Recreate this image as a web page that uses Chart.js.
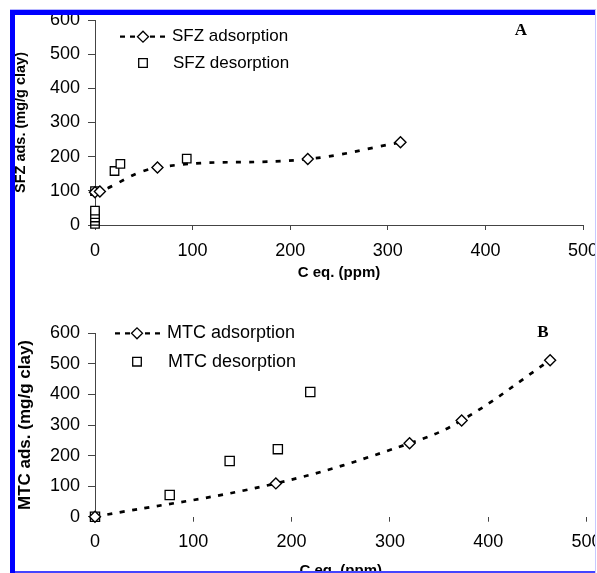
<!DOCTYPE html>
<html>
<head>
<meta charset="utf-8">
<script src="https://cdn.jsdelivr.net/npm/chart.js@4.4.0/dist/chart.umd.min.js"></script>
<style>
html, body { margin: 0; padding: 0; width: 597px; height: 573px; overflow: hidden; background: #fff; }
.box { position: absolute; left: 0; width: 597px; }
#topBox { top: 0; height: 290px; }
#botBox { top: 290px; height: 300px; }
.frame { position: absolute; background: #0000ff; }
</style>
</head>
<body>
<div class="box" id="topBox"><canvas id="chartA" width="597" height="290"></canvas></div>
<div class="box" id="botBox"><canvas id="chartB" width="597" height="300"></canvas></div>
<div class="frame" style="left:10px;top:9px;width:586px;height:1px;background:#b8b8ff"></div>
<div class="frame" style="left:10px;top:10px;width:586px;height:5px"></div>
<div class="frame" style="left:10px;top:10px;width:5px;height:563px"></div>
<div class="frame" style="left:15px;top:571px;width:581px;height:2px;background:#4444ff"></div>
<div style="position:absolute;left:595px;top:10px;width:2px;height:563px;background:#fff;border-left:1px solid #c8c8ff"></div>
<script>
// panel A - SFZ
const sfzAdsX = [0, 5, 64, 218, 313];
const sfzAdsY = [96, 98, 168, 193, 242];
const sfzDesX = [0, 0, 0, 0, 0, 0, 20, 26, 94];
const sfzDesY = [3, 12, 22, 32, 42, 99, 158, 179, 194];

// panel B - MTC
const mtcAdsX = [0, 184, 320, 373, 463];
const mtcAdsY = [0, 109, 240, 315, 512];
const mtcDesX = [0, 76, 137, 186, 219];
const mtcDesY = [0, 71, 182, 221, 408];

const xTicks = [0, 100, 200, 300, 400, 500];
const yTicks = [0, 100, 200, 300, 400, 500, 600];

const FONT = "'Liberation Sans', Arial, sans-serif";
const AXIS = '#444';

function pts(xs, ys) {
    return xs.map((x, i) => ({ x: x, y: ys[i] }));
}

// legend + panel letter drawn inside the plot
const cornerLegend = {
    id: 'cornerLegend',
    afterDraw(chart, args, o) {
        const ctx = chart.ctx;
        ctx.save();
        ctx.strokeStyle = '#000';
        ctx.lineWidth = 2.2;
        ctx.setLineDash([5, 5]);
        ctx.beginPath();
        ctx.moveTo(o.lineX0, o.row1);
        ctx.lineTo(o.lineX1, o.row1);
        ctx.stroke();
        ctx.setLineDash([]);

        ctx.fillStyle = '#fff';
        ctx.lineWidth = 1.3;
        const r = 5.5;
        ctx.beginPath();
        ctx.moveTo(o.symX - r, o.row1);
        ctx.lineTo(o.symX, o.row1 - r);
        ctx.lineTo(o.symX + r, o.row1);
        ctx.lineTo(o.symX, o.row1 + r);
        ctx.closePath();
        ctx.fill();
        ctx.stroke();

        const s = 4.3;
        ctx.beginPath();
        ctx.rect(o.symX - s, o.row2 - s, 2 * s, 2 * s);
        ctx.fill();
        ctx.stroke();

        ctx.fillStyle = '#000';
        ctx.font = o.fontSize + 'px ' + FONT;
        ctx.textBaseline = 'middle';
        ctx.textAlign = 'left';
        ctx.fillText(o.text1, o.textX, o.row1);
        ctx.fillText(o.text2, o.textX + 1, o.row2);

        ctx.font = "bold 17px 'Liberation Serif', 'Times New Roman', serif";
        ctx.textAlign = 'center';
        ctx.fillText(o.letter, o.letterX, o.letterY);
        ctx.restore();
    }
};

function makeChart(id, name, adsX, adsY, desX, desY, cfg) {
    return new Chart(document.getElementById(id), {
        type: 'scatter',
        data: {
            datasets: [
                {
                    label: name + ' adsorption',
                    data: pts(adsX, adsY),
                    showLine: true,
                    tension: 0.4,
                    borderColor: '#000',
                    borderWidth: 2.7,
                    borderDash: cfg.dash,
                    pointStyle: 'rectRot',
                    pointRadius: 5.5,
                    pointBorderWidth: 1.4,
                    pointBackgroundColor: '#fff',
                    pointBorderColor: '#000',
                    clip: false
                },
                {
                    label: name + ' desorption',
                    data: pts(desX, desY),
                    showLine: false,
                    pointStyle: 'rect',
                    pointRadius: cfg.sqR,
                    pointBorderWidth: 1.3,
                    pointBackgroundColor: '#fff',
                    pointBorderColor: '#000',
                    clip: false
                }
            ]
        },
        options: {
            responsive: false,
            animation: false,
            layout: {
                autoPadding: false,
                padding: { left: 0, top: cfg.padTop, right: cfg.padRight, bottom: 0 }
            },
            plugins: {
                legend: { display: false },
                tooltip: { enabled: false },
                cornerLegend: cfg.legend
            },
            scales: {
                x: {
                    type: 'linear',
                    min: 0,
                    max: 500,
                    afterFit: (s) => {
                        s.height = cfg.xHeight;
                        s.paddingLeft = 0;
                        s.paddingRight = 0;
                    },
                    afterBuildTicks: (s) => { s.ticks = xTicks.map(v => ({ value: v })); },
                    border: { display: cfg.xLine, color: AXIS, width: 1 },
                    grid: { display: true, drawOnChartArea: false, drawTicks: true, tickLength: 5, color: AXIS },
                    ticks: { color: '#000', font: { family: FONT, size: 18 }, padding: 10, maxRotation: 0 },
                    title: {
                        display: true,
                        text: 'C eq. (ppm)',
                        color: '#000',
                        font: { family: FONT, size: 15, weight: 'bold' },
                        padding: { top: 0, bottom: cfg.xTitlePad }
                    }
                },
                y: {
                    type: 'linear',
                    min: 0,
                    max: 600,
                    afterFit: (s) => {
                        s.width = 95;
                        s.paddingTop = 0;
                        s.paddingBottom = 0;
                    },
                    afterBuildTicks: (s) => { s.ticks = yTicks.map(v => ({ value: v })); },
                    border: { display: true, color: AXIS, width: 1 },
                    grid: { display: true, drawOnChartArea: false, drawTicks: true, tickLength: 7, color: AXIS },
                    ticks: { color: '#000', font: { family: FONT, size: 18 }, padding: 8 },
                    title: {
                        display: true,
                        text: name + ' ads. (mg/g clay)',
                        color: '#000',
                        font: { family: FONT, size: cfg.yTitleSize, weight: 'bold' },
                        padding: { top: cfg.yTitlePad, bottom: 0 }
                    }
                }
            }
        },
        plugins: [cornerLegend]
    });
}

makeChart('chartA', 'SFZ', sfzAdsX, sfzAdsY, sfzDesX, sfzDesY, {
    padTop: 20, padRight: 14, xHeight: 65, xLine: true, xTitlePad: 8,
    yTitleSize: 14.5, yTitlePad: 12, dash: [5, 8.3], sqR: 6,
    legend: {
        row1: 36.7, row2: 63, lineX0: 120, lineX1: 167, symX: 143, textX: 172,
        fontSize: 17, text1: 'SFZ adsorption', text2: 'SFZ desorption',
        letter: 'A', letterX: 521, letterY: 31
    }
});

makeChart('chartB', 'MTC', mtcAdsX, mtcAdsY, mtcDesX, mtcDesY, {
    padTop: 43.3, padRight: 10.5, xHeight: 73.3, xLine: false, xTitlePad: 10,
    yTitleSize: 17, yTitlePad: 15, dash: [5, 7.5], sqR: 6.5,
    legend: {
        row1: 43.3, row2: 71.7, lineX0: 115, lineX1: 162, symX: 137, textX: 167,
        fontSize: 18, text1: 'MTC adsorption', text2: 'MTC desorption',
        letter: 'B', letterX: 543, letterY: 42.5
    }
});
</script>
</body>
</html>
